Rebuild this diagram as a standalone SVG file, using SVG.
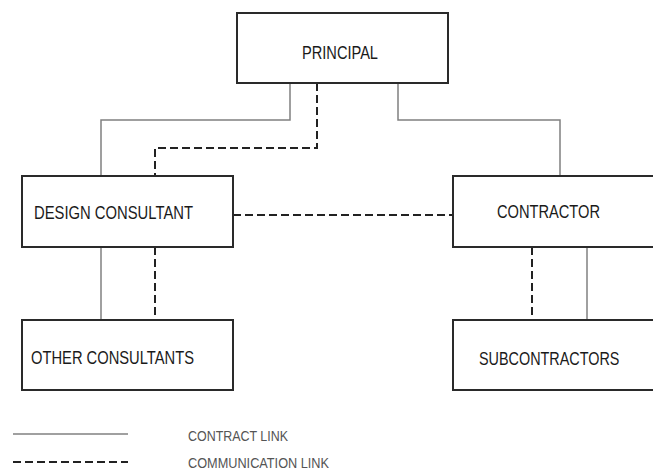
<svg xmlns="http://www.w3.org/2000/svg" width="653" height="470" viewBox="0 0 653 470">
  <style>
    .box { fill: #ffffff; stroke: #2a2a2a; stroke-width: 2; }
    .label { font-family: "Liberation Sans", Arial, sans-serif; font-size: 18px; fill: #1a1a1a; }
    .legend { font-family: "Liberation Sans", Arial, sans-serif; font-size: 15.5px; fill: #555555; }
    .contract { fill: none; stroke: #808080; stroke-width: 1.5; }
    .comm { fill: none; stroke: #222222; stroke-width: 2; stroke-dasharray: 8 4; }
  </style>
  <rect width="653" height="470" fill="#ffffff"/>

  <!-- connectors -->
  <g id="connectors">
    <path class="contract" d="M290,83 V120 H101 V176"/>
    <path class="comm" d="M317,83 V148 H155 V176"/>
    <path class="contract" d="M398,83 V120 H560 V176"/>
    <path class="comm" d="M233,215 H453"/>
    <path class="contract" d="M101,247 V320"/>
    <path class="comm" d="M155,247 V320"/>
    <path class="comm" d="M532,247 V320"/>
    <path class="contract" d="M587,247 V320"/>
  </g>

  <!-- nodes -->
  <g id="principal">
    <rect class="box" x="237" y="13" width="211" height="70"/>
    <text class="label" x="302" y="59" textLength="76" lengthAdjust="spacingAndGlyphs">PRINCIPAL</text>
  </g>
  <g id="design-consultant">
    <rect class="box" x="22" y="176" width="211" height="71"/>
    <text class="label" x="34" y="219" textLength="159" lengthAdjust="spacingAndGlyphs">DESIGN CONSULTANT</text>
  </g>
  <!-- right-hand boxes run to the page edge, so only three sides are stroked -->
  <g id="contractor">
    <path class="box" d="M653,176 H453 V247 H653"/>
    <text class="label" x="497" y="218" textLength="103" lengthAdjust="spacingAndGlyphs">CONTRACTOR</text>
  </g>
  <g id="other-consultants">
    <rect class="box" x="22" y="320" width="211" height="70"/>
    <text class="label" x="31" y="364" textLength="163" lengthAdjust="spacingAndGlyphs">OTHER CONSULTANTS</text>
  </g>
  <g id="subcontractors">
    <path class="box" d="M653,320 H453 V390 H653"/>
    <!-- condensed by a horizontal scale so the natural width stays inside the page -->
    <text class="label" transform="translate(479,365) scale(0.8,1)">SUBCONTRACTORS</text>
  </g>

  <!-- legend -->
  <g id="legend">
    <path class="contract" d="M13,434 H128"/>
    <path class="comm" d="M13,462 H128"/>
    <text class="legend" x="188" y="441" textLength="100" lengthAdjust="spacingAndGlyphs">CONTRACT LINK</text>
    <text class="legend" x="188" y="468" textLength="141" lengthAdjust="spacingAndGlyphs">COMMUNICATION LINK</text>
  </g>
</svg>
